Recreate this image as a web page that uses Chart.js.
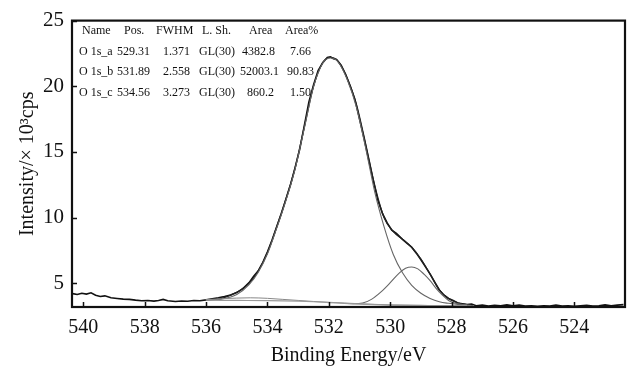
<!DOCTYPE html>
<html>
<head>
<meta charset="utf-8">
<script src="https://cdn.jsdelivr.net/npm/chart.js@4"></script>
<style>
  body { margin: 0; background: #fff; }
  canvas { display: block; }
</style>
</head>
<body>
<canvas id="xps" width="628" height="374"></canvas>
<script>
// raw spectrum (binding energy, intensity x10^3 cps)
const rawE = [540.35, 540.2, 540.05, 539.9, 539.75, 539.6, 539.45, 539.3, 539.1, 538.9, 538.7, 538.5, 538.3, 538.1, 537.9, 537.7, 537.55, 537.4, 537.25, 537.0, 536.8, 536.6, 536.4, 536.2, 536.0, 535.8, 535.6, 535.4, 535.2, 535.0, 534.8, 534.6, 534.45, 534.3, 534.15, 534.0, 533.85, 533.7, 533.55, 533.4, 533.25, 533.1, 532.95, 532.8, 532.65, 532.5, 532.35, 532.2, 532.05, 531.95, 531.85, 531.75, 531.6, 531.45, 531.3, 531.15, 531.0, 530.85, 530.7, 530.55, 530.4, 530.25, 530.1, 529.95, 529.8, 529.6, 529.45, 529.3, 529.15, 529.0, 528.85, 528.7, 528.55, 528.4, 528.25, 528.1, 527.95, 527.8, 527.65, 527.5, 527.35, 527.2, 527.0, 526.8, 526.6, 526.4, 526.2, 526.0, 525.8, 525.6, 525.4, 525.2, 525.0, 524.8, 524.6, 524.4, 524.2, 524.0, 523.8, 523.6, 523.4, 523.2, 523.0, 522.8, 522.6, 522.4];
const rawI = [4.22, 4.15, 4.25, 4.18, 4.28, 4.1, 4.0, 4.05, 3.9, 3.85, 3.8, 3.78, 3.72, 3.68, 3.7, 3.65, 3.7, 3.78, 3.68, 3.62, 3.66, 3.64, 3.7, 3.68, 3.74, 3.82, 3.9, 4.0, 4.12, 4.3, 4.6, 5.05, 5.55, 5.95, 6.6, 7.4, 8.3, 9.3, 10.3, 11.4, 12.5, 13.8, 15.2, 17.0, 18.8, 20.1, 21.2, 21.8, 22.2, 22.25, 22.1, 22.05, 21.6, 20.9, 20.0, 19.0, 17.5, 16.0, 14.4, 12.8, 11.3, 10.3, 9.6, 9.05, 8.8, 8.35, 8.05, 7.75, 7.3, 6.8, 6.25, 5.7, 5.1, 4.5, 4.1, 3.85, 3.7, 3.5, 3.45, 3.38, 3.42, 3.3, 3.35, 3.28, 3.32, 3.3, 3.36, 3.3, 3.34, 3.27, 3.3, 3.26, 3.3, 3.28, 3.34, 3.27, 3.3, 3.26, 3.29, 3.33, 3.28, 3.3, 3.36, 3.3, 3.34, 3.38];

// fitted envelope
const envE = [536.0, 535.5, 535.2, 534.9, 534.6, 534.3, 534.0, 533.7, 533.4, 533.1, 532.8, 532.5, 532.2, 531.95, 531.7, 531.4, 531.1, 530.8, 530.5, 530.2, 529.9, 529.6, 529.3, 529.0, 528.7, 528.4, 528.1, 527.8, 527.5];
const envI = [3.72, 3.85, 4.1, 4.45, 5.0, 5.95, 7.35, 9.3, 11.4, 13.8, 16.9, 20.0, 21.8, 22.2, 21.9, 20.6, 18.6, 15.6, 12.4, 10.0, 8.95, 8.35, 7.75, 6.85, 5.7, 4.5, 3.85, 3.52, 3.38];

// O 1s_b component
const peakBE = [536.0, 535.5, 535.0, 534.6, 534.3, 534.0, 533.7, 533.4, 533.1, 532.8, 532.5, 532.2, 531.95, 531.7, 531.4, 531.1, 530.8, 530.5, 530.2, 529.9, 529.6, 529.3, 529.0, 528.7, 528.4, 528.1, 527.8, 527.5];
const peakBI = [3.72, 3.8, 4.15, 4.9, 5.85, 7.25, 9.2, 11.3, 13.7, 16.8, 19.95, 21.75, 22.15, 21.85, 20.5, 18.4, 15.3, 11.9, 9.3, 7.2, 5.8, 4.85, 4.25, 3.85, 3.6, 3.48, 3.4, 3.35];

// O 1s_a component
const peakAE = [531.5, 531.2, 530.9, 530.6, 530.3, 530.0, 529.7, 529.5, 529.3, 529.1, 528.9, 528.7, 528.5, 528.3, 528.1, 527.9, 527.6, 527.3];
const peakAI = [3.47, 3.45, 3.5, 3.8, 4.35, 5.05, 5.8, 6.15, 6.25, 6.1, 5.7, 5.2, 4.6, 4.1, 3.7, 3.5, 3.38, 3.32];

// O 1s_c component
const peakCE = [536.0, 535.5, 535.0, 534.56, 534.0, 533.5, 533.0, 532.5, 532.0, 531.5, 531.0, 530.5, 530.0, 529.0, 528.0];
const peakCI = [3.76, 3.83, 3.88, 3.9, 3.86, 3.78, 3.7, 3.62, 3.56, 3.5, 3.45, 3.4, 3.36, 3.32, 3.3];

// background
const bgE = [536.0, 535.0, 534.0, 533.0, 532.5, 532.0, 531.5, 531.0, 530.5, 530.0, 529.0, 528.0, 527.5];
const bgI = [3.72, 3.7, 3.68, 3.64, 3.6, 3.54, 3.48, 3.42, 3.38, 3.35, 3.32, 3.3, 3.3];

const xTicks = [540, 538, 536, 534, 532, 530, 528, 526, 524];
const yTicks = [5, 10, 15, 20, 25];

// fit table
const tableHead = ['Name', 'Pos.', 'FWHM', 'L. Sh.', 'Area', 'Area%'];
const tableRows = [
    ['O 1s_a', '529.31', '1.371', 'GL(30)', '4382.8', '7.66'],
    ['O 1s_b', '531.89', '2.558', 'GL(30)', '52003.1', '90.83'],
    ['O 1s_c', '534.56', '3.273', 'GL(30)', '860.2', '1.50'],
];

const pts = (es, is) => es.map((e, i) => ({ x: e, y: is[i] }));
const serif = '"Liberation Serif", "Times New Roman", serif';

const frame = {
    id: 'frame',
    afterDatasetsDraw(chart) {
        const { ctx, chartArea: a, scales } = chart;
        ctx.save();
        ctx.strokeStyle = '#111';
        ctx.lineWidth = 1.5;
        ctx.beginPath();
        xTicks.forEach(t => {
            const px = Math.round(scales.x.getPixelForValue(t)) + 0.5;
            ctx.moveTo(px, a.bottom);
            ctx.lineTo(px, a.bottom - 5);
        });
        yTicks.forEach(t => {
            const py = Math.round(scales.y.getPixelForValue(t)) + 0.5;
            ctx.moveTo(a.left, py);
            ctx.lineTo(a.left + 5, py);
        });
        ctx.stroke();
        ctx.lineWidth = 2.2;
        ctx.strokeRect(a.left, a.top, a.right - a.left, a.bottom - a.top);
        ctx.restore();
    },
    afterDraw(chart) {
        const { ctx } = chart;
        const headX = [82, 124, 156, 202, 249, 285];
        const cellX = [79, 117, 163, 199, 242, 290];
        const rowY = [31, 52, 72, 93];
        ctx.save();
        ctx.fillStyle = '#111';
        ctx.font = '12px ' + serif;
        ctx.textBaseline = 'middle';
        tableHead.forEach((h, i) => ctx.fillText(h, headX[i], rowY[0]));
        tableRows.forEach((row, r) => {
            row.forEach((c, i) => {
                let x = cellX[i];
                if (i === 4 && c.length === 7) x -= 2;
                if (i === 4 && c.length === 5) x += 5;
                if (i === 5 && c.length === 5) x -= 3;
                ctx.fillText(c, x, rowY[r + 1]);
            });
        });
        ctx.restore();
    }
};

const line = (data, color, width, extra) => Object.assign({
    data, borderColor: color, borderWidth: width, pointRadius: 0, fill: false, tension: 0
}, extra || {});

new Chart(document.getElementById('xps'), {
    type: 'line',
    data: {
        datasets: [
            line(pts(bgE, bgI), '#9a9a9a', 1.2, { cubicInterpolationMode: 'monotone' }),
            line(pts(peakCE, peakCI), '#888', 1, { cubicInterpolationMode: 'monotone' }),
            line(pts(peakAE, peakAI), '#666', 1.1, { cubicInterpolationMode: 'monotone' }),
            line(pts(peakBE, peakBI), '#666', 1.1, { cubicInterpolationMode: 'monotone' }),
            line(pts(envE, envI), '#222', 1.3, { cubicInterpolationMode: 'monotone' }),
            line(pts(rawE, rawI), '#111', 1.6),
        ]
    },
    options: {
        responsive: false,
        animation: false,
        events: [],
        layout: { padding: { top: 15, right: 3, left: 0, bottom: 0 } },
        plugins: { legend: { display: false }, tooltip: { enabled: false } },
        scales: {
            x: {
                type: 'linear',
                reverse: true,
                min: 522.35,
                max: 540.37,
                afterBuildTicks: s => { s.ticks = xTicks.map(v => ({ value: v })); },
                afterFit: s => { s.height = 67; },
                grid: { display: false, drawTicks: false },
                border: { display: false },
                ticks: { color: '#111', padding: 9, maxRotation: 0, font: { family: serif, size: 20 } },
                title: {
                    display: true, text: 'Binding Energy/eV', color: '#111',
                    font: { family: serif, size: 20 }, padding: { top: 0, bottom: 6 }
                }
            },
            y: {
                min: 3.2,
                max: 25,
                afterBuildTicks: s => { s.ticks = yTicks.map(v => ({ value: v })); },
                afterFit: s => { s.width = 72; },
                grid: { display: false, drawTicks: false },
                border: { display: false },
                ticks: { color: '#111', padding: 8, font: { family: serif, size: 21 } },
                title: {
                    display: true, text: 'Intensity/\u00d7 10\u00b3cps', color: '#111',
                    font: { family: serif, size: 20 }, padding: { top: 16, bottom: 0 }
                }
            }
        }
    },
    plugins: [frame]
});
</script>
</body>
</html>
